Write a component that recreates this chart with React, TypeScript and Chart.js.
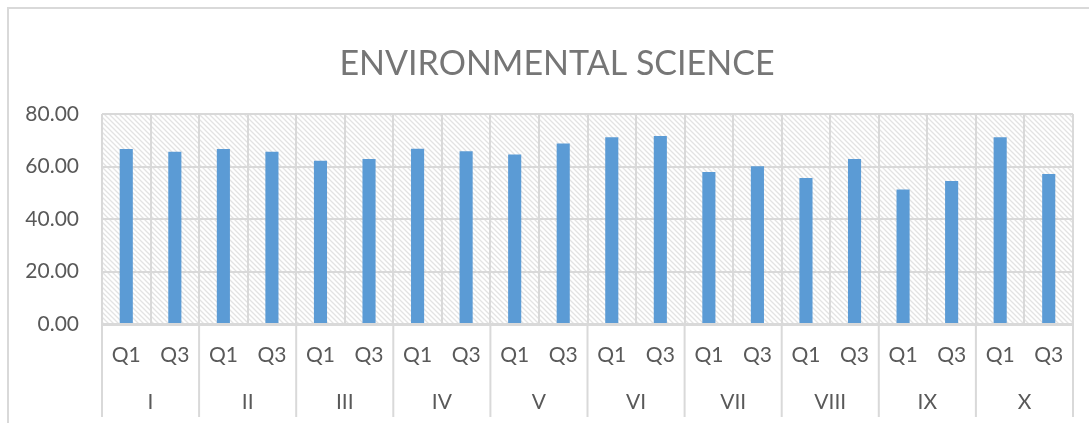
import React, { useEffect, useRef } from "react";
import { Chart, registerables } from "chart.js";

Chart.register(...registerables);

const TITLE = "ENVIRONMENTAL SCIENCE";
const classes = ["I", "II", "III", "IV", "V", "VI", "VII", "VIII", "IX", "X"];
const quarters = ["Q1", "Q3"];
const q1Scores = [66.7, 66.7, 62.2, 66.8, 64.6, 71.1, 57.9, 55.6, 51.2, 71.1];
const q3Scores = [65.6, 65.6, 62.9, 65.8, 68.8, 71.6, 60.1, 62.9, 54.5, 57.1];
const yMin = 0;
const yMax = 80;
const yStep = 20;

const W = 1089;
const H = 423;
const FONT = "Lato, 'Open Sans', sans-serif";
const GRID = "#d9d9d9";

function makePattern(ctx: CanvasRenderingContext2D): CanvasPattern | string {
  const p = document.createElement("canvas");
  const s = 5;
  p.width = s;
  p.height = s;
  const g = p.getContext("2d");
  if (!g) return "#f2f2f2";
  g.fillStyle = "#ffffff";
  g.fillRect(0, 0, s, s);
  g.strokeStyle = "#e3e3e3";
  g.lineWidth = 1.3;
  g.beginPath();
  for (let k = -1; k <= 1; k++) {
    g.moveTo(-1, -1 + k * s);
    g.lineTo(s + 1, s + 1 + k * s);
  }
  g.stroke();
  return ctx.createPattern(p, "repeat") || "#f2f2f2";
}

const plotBackground = {
  id: "plotBackground",
  beforeDraw(chart: any) {
    const { ctx, chartArea } = chart;
    ctx.save();
    ctx.fillStyle = makePattern(ctx);
    ctx.fillRect(chartArea.left, chartArea.top, chartArea.right - chartArea.left, chartArea.bottom - chartArea.top);
    ctx.restore();
  },
};

const groupSeparators = {
  id: "groupSeparators",
  afterDraw(chart: any) {
    const { ctx, chartArea } = chart;
    const xs = chart.scales.x;
    const step = xs.getPixelForValue(1) - xs.getPixelForValue(0);
    ctx.save();
    ctx.strokeStyle = GRID;
    ctx.lineWidth = 2;
    ctx.beginPath();
    for (let k = 0; k <= classes.length; k++) {
      const x = xs.getPixelForValue(k * quarters.length) - step / 2;
      ctx.moveTo(x, chartArea.bottom);
      ctx.lineTo(x, chartArea.bottom + 93);
    }
    ctx.stroke();
    ctx.restore();
  },
};

const titlePlugin = {
  id: "customTitle",
  afterDraw(chart: any) {
    const { ctx } = chart;
    ctx.save();
    ctx.font = `34px ${FONT}`;
    ctx.fillStyle = "#767676";
    ctx.textAlign = "center";
    ctx.textBaseline = "middle";
    ctx.fillText(TITLE, 557, 64);
    ctx.restore();
  },
};

export default function App() {
  const ref = useRef<HTMLCanvasElement | null>(null);

  useEffect(() => {
    if (!ref.current) return;
    const labels = classes.flatMap(() => quarters);
    const values = classes.flatMap((_, i) => [q1Scores[i], q3Scores[i]]);
    const chart = new Chart(ref.current, {
      type: "bar",
      data: {
        labels,
        datasets: [
          {
            data: values,
            backgroundColor: "#5b9bd5",
            borderWidth: 0,
            categoryPercentage: 1,
            barPercentage: 0.27,
            xAxisID: "x",
          },
        ],
      },
      options: {
        animation: false,
        responsive: false,
        devicePixelRatio: 1,
        layout: { padding: { top: 114, right: 16, left: 0, bottom: 0 } },
        plugins: {
          legend: { display: false },
          tooltip: { enabled: false },
          title: { display: false },
        },
        scales: {
          y: {
            min: yMin,
            max: yMax,
            ticks: {
              stepSize: yStep,
              callback: (v: any) => Number(v).toFixed(2),
              font: { family: FONT, size: 21 },
              color: "#595959",
              padding: 23,
            },
            grid: { color: GRID, lineWidth: 2, drawTicks: false },
            border: { display: false },
            afterFit: (s: any) => {
              s.width = 102;
            },
          },
          x: {
            type: "category",
            position: "bottom",
            weight: 0,
            offset: true,
            ticks: {
              font: { family: FONT, size: 21 },
              color: "#595959",
              padding: 19,
              maxRotation: 0,
              autoSkip: false,
            },
            grid: { offset: true, color: GRID, lineWidth: 2, drawTicks: false },
            border: { display: true, color: GRID, width: 3 },
            afterFit: (s: any) => {
              s.height = 48;
            },
          },
          x2: {
            type: "category",
            position: "bottom",
            weight: 1,
            offset: true,
            labels: classes,
            ticks: {
              font: { family: FONT, size: 21 },
              color: "#595959",
              padding: 18,
              maxRotation: 0,
              autoSkip: false,
            },
            grid: { display: false, drawTicks: false },
            border: { display: false },
            afterFit: (s: any) => {
              s.height = 51;
            },
          },
        },
      } as any,
      plugins: [plotBackground, groupSeparators, titlePlugin],
    });
    return () => chart.destroy();
  }, []);

  return (
    <div
      style={{
        position: "fixed",
        left: 0,
        top: 0,
        width: W,
        height: H,
        overflow: "hidden",
        background: "#ffffff",
      }}
    >
      <div
        style={{
          position: "absolute",
          left: 7,
          top: 7,
          width: W + 40,
          height: H + 40,
          border: "2px solid #d9d9d9",
          boxSizing: "border-box",
        }}
      />
      <canvas
        ref={ref}
        width={W}
        height={H}
        style={{ position: "absolute", left: 0, top: 0, width: W, height: H }}
      />
    </div>
  );
}
